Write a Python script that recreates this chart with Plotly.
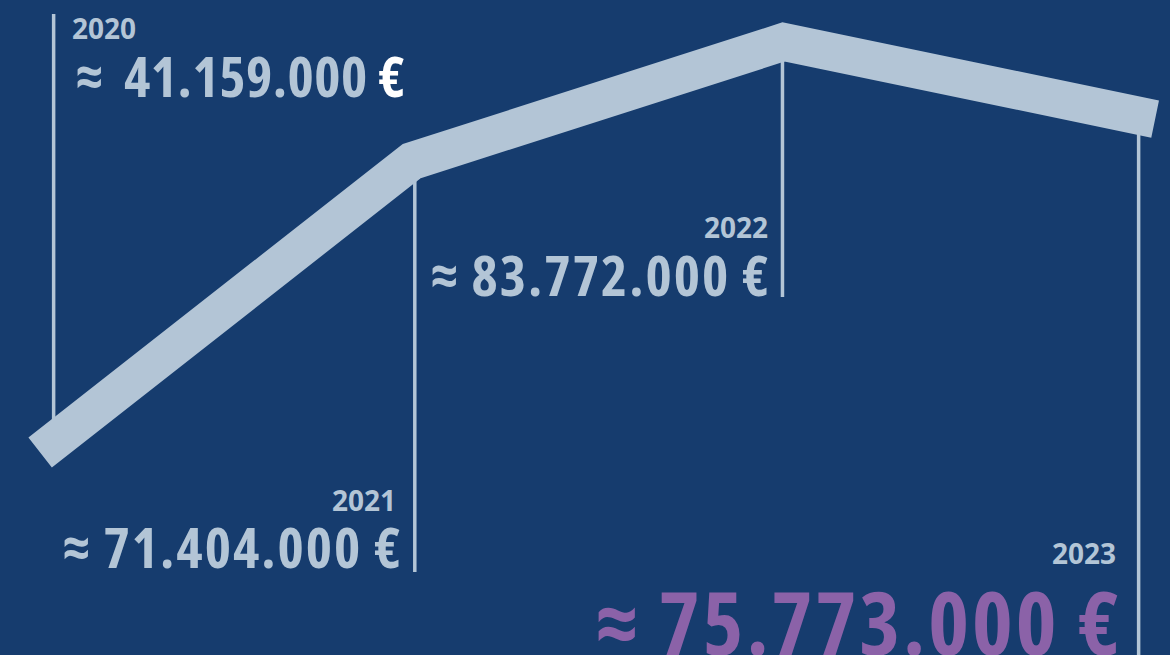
import plotly.graph_objects as go

years = [2020, 2021, 2022, 2023]
values = [41159000, 71404000, 83772000, 75773000]
labels = ["≈\u00a0\u00a041.159.000 <span style='color:#ffffff'>€</span>",
          "≈ 71.404.000 €", "≈ 83.772.000 €", "≈ 75.773.000 €"]
year_labels = ["2020", "2021", "2022", "2023"]

BG = "#163c6e"
LINE = "#b3c5d6"
PURPLE = "#8b62a8"
FONT = "Open Sans, Liberation Sans Narrow, DejaVu Sans, sans-serif"

W, H = 1170, 655
xr = [2019.892, 2023.040]
yr = [20.13e6, 88.13e6]

def px_y(py):
    return yr[1] - py / H * (yr[1] - yr[0])

fig = go.Figure()

# vertical guide lines: x offset (px) from each year's position, far end (px from top)
guide_dx = [13.5, 3, -1, -16.5]
guide_end = [14, 572, 297, 660]
for yv, v, dx, end in zip(years, values, guide_dx, guide_end):
    xpos = yv + dx / W * (xr[1] - xr[0])
    fig.add_shape(type="line", xref="x", yref="y", x0=xpos, x1=xpos,
                  y0=v, y1=px_y(end), line=dict(color=LINE, width=3.5),
                  layer="below")

fig.add_trace(go.Scatter(x=years, y=values, mode="lines",
                         line=dict(color=LINE, width=38),
                         hoverinfo="skip", showlegend=False))

year_pos = [("left", 70, 28), ("right", 398, 500), ("right", 770, 227), ("right", 1118, 553)]
val_pos = [("left", 74, 75), ("right", 405, 546), ("right", 773, 274), ("right", 1124, 621)]
val_size = [56, 56, 56, 87]
val_spacing = [0.5, 2, 2, 3]
val_color = [LINE, LINE, LINE, PURPLE]

def styled(t, stretch, spacing=0):
    return "<span style='font-stretch:%s;letter-spacing:%spx'>%s</span>" % (stretch, spacing, t)

for txt, (anc, x, y) in zip(year_labels, year_pos):
    fig.add_annotation(text=styled(txt, "100%", 0), xref="paper", yref="paper",
                       x=x / W, y=1 - y / H, xanchor=anc, yanchor="middle", showarrow=False,
                       font=dict(family=FONT, size=28, color=LINE, weight="bold"))
for txt, (anc, x, y), s, sp, c in zip(labels, val_pos, val_size, val_spacing, val_color):
    fig.add_annotation(text=styled(txt, "75%", sp), xref="paper", yref="paper",
                       x=x / W, y=1 - y / H, xanchor=anc, yanchor="middle", showarrow=False,
                       font=dict(family=FONT, size=s, color=c, weight="bold"))

fig.update_layout(width=W, height=H, margin=dict(l=0, r=0, t=0, b=0),
                  paper_bgcolor=BG, plot_bgcolor=BG,
                  xaxis=dict(range=xr, visible=False, fixedrange=True),
                  yaxis=dict(range=yr, visible=False, fixedrange=True),
                  showlegend=False)

fig.write_html("out.html", config={"displayModeBar": False},
               post_script="document.body.style.margin='0';document.body.style.overflow='hidden';")
